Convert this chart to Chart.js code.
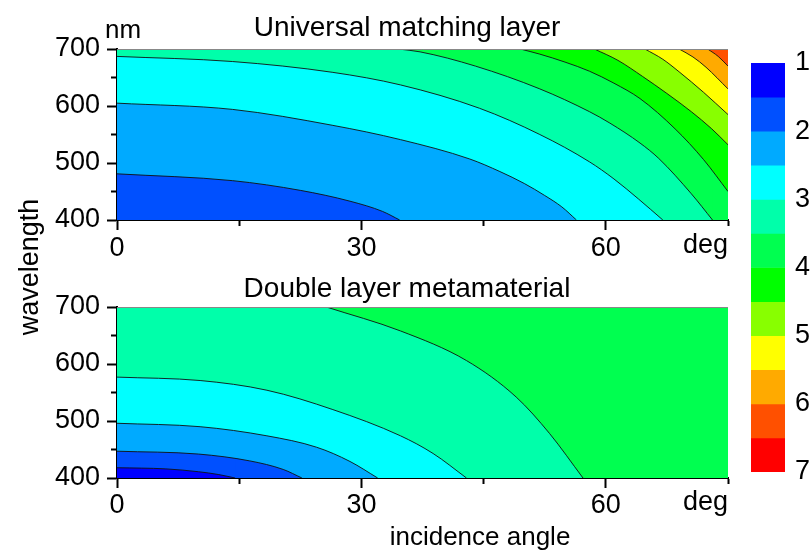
<!DOCTYPE html>
<html>
<head>
<meta charset="utf-8">
<script src="https://cdn.jsdelivr.net/npm/chart.js@4/dist/chart.umd.min.js"></script>
<style>
  body { margin: 0; background: #fff; }
  #wrap { position: relative; width: 810px; height: 551px; }
  #wrap canvas { position: absolute; left: 0; top: 0; }
</style>
</head>
<body>
<div id="wrap">
  <canvas id="top" width="810" height="551"></canvas>
  <canvas id="bottom" width="810" height="551"></canvas>
  <canvas id="bar" width="810" height="551"></canvas>
</div>
<script>
// axes
const angleTicks = [0, 15, 30, 45, 60, 75];
const angleLabels = [0, 30, 60];
const waveTicks = [400, 450, 500, 550, 600, 650, 700];
const waveLabels = [400, 500, 600, 700];

// colour scale
const levels = [1, 1.5, 2, 2.5, 3, 3.5, 4, 4.5, 5, 5.5, 6, 6.5, 7];
const levelColors = ['#0000FF', '#0050FF', '#00AAFF', '#00FFFF', '#00FFAA', '#00FF50',
                     '#00FF00', '#88FF00', '#FFFF00', '#FFAA00', '#FF5000', '#FF0000'];
const scaleLabels = [1, 2, 3, 4, 5, 6, 7];

// Universal matching layer: contour lines [angle, wavelength]
const univ20 = [[0, 481], [14.2, 469], [22.5, 452], [28.6, 433], [32.6, 415], [34.7, 400]];
const univ25 = [[0, 605], [14.2, 594], [26.5, 566], [34.8, 541], [43.3, 507], [47, 485], [50, 464], [52.5, 443], [54.6, 423], [56.4, 400]];
const univ30 = [[0, 687], [14.2, 678], [26.5, 659], [34.8, 637], [44.5, 596], [51.9, 550], [58, 502], [61, 472], [64, 437], [67, 400]];
const univ35 = [[34.5, 700], [37.2, 695], [44, 670], [51.9, 630], [58, 590], [60.5, 570], [64.2, 535], [66.5, 508], [70.5, 446], [73.1, 400]];
const univ40 = [[49.5, 700], [51.9, 691], [55, 677], [58, 661], [61, 640], [64.2, 613], [68.5, 560], [72, 506], [75, 450]];
const univ45 = [[58.6, 700], [61.5, 680], [64.5, 652], [67.5, 622], [70.5, 590], [73, 560], [75, 532]];
const univ50 = [[64.8, 700], [67, 682], [69, 660], [72, 624], [75, 585]];
const univ55 = [[69, 700], [70.7, 686], [72.3, 668], [75, 630]];
const univ60 = [[72.5, 700], [73.8, 687], [75, 670]];

// Double layer metamaterial
const dbl15 = [[0, 418], [6, 416], [10, 411], [12.5, 406], [14.5, 400]];
const dbl20 = [[0, 447], [10, 442], [16.3, 430], [20.4, 415], [22.7, 400]];
const dbl25 = [[0, 496], [10.2, 490], [18.4, 474], [24.5, 454], [28.6, 429], [32, 400]];
const dbl30 = [[0, 577], [10.2, 571], [18.4, 554], [26.5, 520], [34.8, 474], [38.8, 443], [42.9, 400]];
const dbl35 = [[25.7, 700], [34.8, 658], [42.9, 606], [49, 542], [53.1, 478], [57.2, 400]];

const FONT = 'Arial, "Liberation Sans", sans-serif';
const xMin = angleTicks[0], xMax = angleTicks[angleTicks.length - 1];
const yMin = waveTicks[0], yMax = waveTicks[waveTicks.length - 1];

const bandColor = lv => levelColors[levels.indexOf(lv)];

// each contour fills everything above it with the colour of the band above its level,
// plus the whole strip right of the point where it meets the bottom axis
function contourSets(baseLevel, lines) {
  const area = (x0, color, order) => ({
    data: [{x: x0, y: yMin}, {x: xMax, y: yMin}],
    fill: 'end', backgroundColor: color, borderWidth: 0, borderColor: 'transparent',
    pointRadius: 0, order: order
  });
  const sets = [area(xMin, bandColor(baseLevel), 1000)];
  lines.forEach(([lv, pts]) => {
    const order = -lv * 10;
    sets.push({
      data: pts.map(p => ({x: p[0], y: p[1]})),
      fill: 'end', backgroundColor: bandColor(lv),
      borderColor: '#111', borderWidth: 0.9,
      pointRadius: 0, cubicInterpolationMode: 'monotone', order: order
    });
    const last = pts[pts.length - 1];
    // small overlap so no seam shows between the two fills
    if (last[1] === yMin) sets.push(area(last[0] - 0.15, bandColor(lv), order + 1));
  });
  return sets;
}

const textLayer = {
  id: 'textLayer',
  afterDraw(chart, args, opts) {
    const ctx = chart.ctx;
    const a = chart.chartArea;
    ctx.save();
    ctx.strokeStyle = '#888';
    ctx.lineWidth = 1;
    ctx.beginPath();
    ctx.moveTo(a.left, Math.round(a.top) + 0.5);
    ctx.lineTo(a.right, Math.round(a.top) + 0.5);
    ctx.stroke();
    ctx.restore();
    (opts.items || []).forEach(t => {
      ctx.save();
      ctx.font = t.size + 'px ' + FONT;
      ctx.fillStyle = '#000';
      ctx.textAlign = t.align || 'left';
      ctx.textBaseline = 'alphabetic';
      ctx.translate(t.x, t.y);
      if (t.rotate) ctx.rotate(t.rotate);
      ctx.fillText(t.text, 0, 0);
      ctx.restore();
    });
  }
};

function plotOptions(padTop, padBottom, labelPad, items) {
  return {
    responsive: false,
    animation: false,
    events: [],
    layout: { padding: { left: 0, right: 82, top: padTop, bottom: padBottom } },
    plugins: { legend: { display: false }, tooltip: { enabled: false }, textLayer: { items: items } },
    scales: {
      x: {
        type: 'linear', min: xMin, max: xMax,
        afterBuildTicks: s => { s.ticks = angleTicks.map(v => ({value: v})); },
        afterFit: s => { s.height = 40; },
        border: { display: true, color: '#000', width: 2 },
        grid: {
          drawOnChartArea: false, drawTicks: true, tickLength: 10, tickColor: '#000', tickWidth: 2,
          tickBorderDash: c => angleLabels.includes(c.tick.value) ? [] : [5, 40]
        },
        ticks: {
          autoSkip: false, maxRotation: 0, padding: labelPad, color: '#000',
          font: { family: FONT, size: 27, lineHeight: 1 },
          callback: v => angleLabels.includes(v) ? String(v) : ''
        }
      },
      y: {
        type: 'linear', min: yMin, max: yMax,
        afterBuildTicks: s => { s.ticks = waveTicks.map(v => ({value: v})); },
        afterFit: s => { s.width = 117; },
        border: { display: true, color: '#000', width: 2 },
        grid: {
          drawOnChartArea: false, drawTicks: true, tickLength: 10, tickColor: '#000', tickWidth: 2,
          tickBorderDash: c => waveLabels.includes(c.tick.value) ? [] : [0, 4, 6, 40]
        },
        ticks: {
          autoSkip: false, padding: 7, color: '#000',
          font: { family: FONT, size: 27, lineHeight: 1 },
          callback: v => waveLabels.includes(v) ? String(v) : ''
        }
      }
    }
  };
}

new Chart(document.getElementById('top'), {
  type: 'line',
  data: { datasets: contourSets(1.5, [[2, univ20], [2.5, univ25], [3, univ30], [3.5, univ35], [4, univ40],
                                      [4.5, univ45], [5, univ50], [5.5, univ55], [6, univ60]]) },
  options: plotOptions(49, 291, 5, [
    { text: 'Universal matching layer', x: 407, y: 36, size: 28, align: 'center' },
    { text: 'nm', x: 105, y: 38, size: 26 },
    { text: 'deg', x: 728, y: 253, size: 27, align: 'right' },
    { text: 'wavelength', x: 38, y: 267, size: 27, align: 'center', rotate: -Math.PI / 2 }
  ]),
  plugins: [textLayer]
});

new Chart(document.getElementById('bottom'), {
  type: 'line',
  data: { datasets: contourSets(1, [[1.5, dbl15], [2, dbl20], [2.5, dbl25], [3, dbl30], [3.5, dbl35]]) },
  options: plotOptions(307, 33, 4, [
    { text: 'Double layer metamaterial', x: 407, y: 297, size: 28, align: 'center' },
    { text: 'deg', x: 728, y: 510, size: 27, align: 'right' },
    { text: 'incidence angle', x: 480, y: 545, size: 26, align: 'center' }
  ]),
  plugins: [textLayer]
});

// colour scale bar
new Chart(document.getElementById('bar'), {
  type: 'bar',
  data: {
    labels: [''],
    datasets: levelColors.map((c, i) => ({
      data: [[levels[i], levels[i + 1]]],
      backgroundColor: c, borderWidth: 0, grouped: false,
      barPercentage: 1, categoryPercentage: 1
    }))
  },
  options: {
    responsive: false,
    animation: false,
    events: [],
    layout: { padding: { left: 751, right: 0, top: 63, bottom: 79 } },
    plugins: { legend: { display: false }, tooltip: { enabled: false } },
    scales: {
      x: { display: false },
      y: {
        type: 'linear', min: levels[0], max: levels[levels.length - 1], reverse: true, position: 'right',
        afterBuildTicks: s => { s.ticks = scaleLabels.map(v => ({value: v})); },
        afterFit: s => { s.width = 25; },
        border: { display: false },
        grid: { display: false, drawTicks: false },
        ticks: { padding: 10, color: '#000', font: { family: FONT, size: 27, lineHeight: 1 } }
      }
    }
  }
});
</script>
</body>
</html>
